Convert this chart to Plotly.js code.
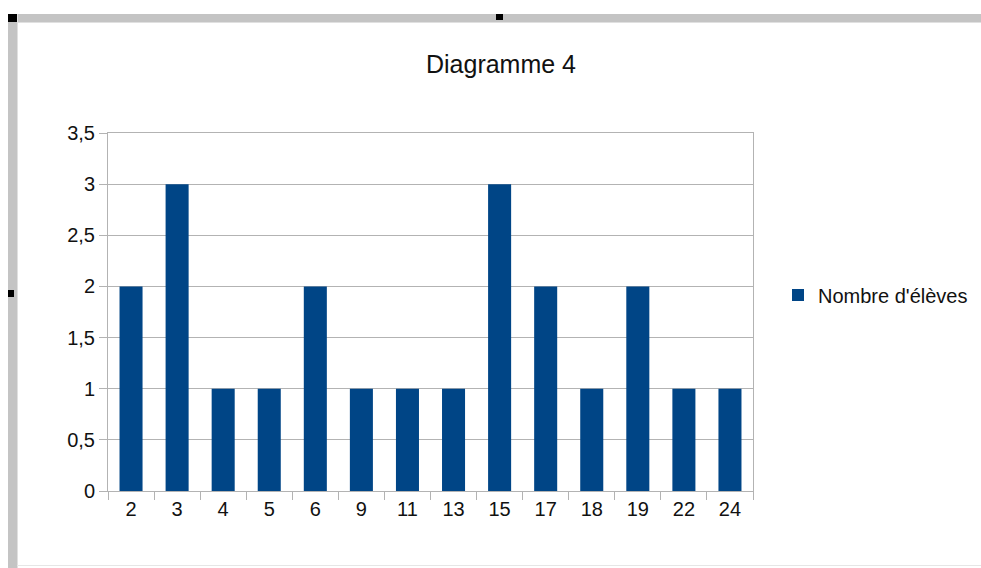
<!DOCTYPE html>
<html>
<head>
<meta charset="utf-8">
<script src="https://cdn.plot.ly/plotly-3.0.1.min.js"></script>
<style>
  html, body { margin: 0; padding: 0; background: #fff; }
  #wrap { position: relative; width: 981px; height: 568px; overflow: hidden; }
  .frame { position: absolute; background: #c4c4c4; }
  .handle { position: absolute; background: #000; }
  #chart { position: absolute; left: 0; top: 0; width: 981px; height: 568px; }
</style>
</head>
<body>
<div id="wrap">
  <div class="frame" style="left:8px; top:14px; width:973px; height:8px; border-bottom:1px solid #e0e0e0;"></div>
  <div class="frame" style="left:8px; top:14px; width:9px; height:554px; border-right:1px solid #e0e0e0;"></div>
  <div class="frame" style="left:17px; top:565px; width:964px; height:1px; background:#e6e6e6;"></div>
  <div class="handle" style="left:8px; top:14px; width:9px; height:8px;"></div>
  <div class="handle" style="left:496px; top:14px; width:7px; height:6px;"></div>
  <div class="handle" style="left:8px; top:290px; width:6px; height:7px;"></div>
  <div id="chart"></div>
</div>
<script>
const categories = ['2', '3', '4', '5', '6', '9', '11', '13', '15', '17', '18', '19', '22', '24'];
const values = [2, 3, 1, 1, 2, 1, 1, 1, 3, 2, 1, 2, 1, 1];
const seriesName = "Nombre d'élèves";
const chartTitle = 'Diagramme 4';
const yTickVals = [0, 0.5, 1, 1.5, 2, 2.5, 3, 3.5];

const font = "'Liberation Sans', Arial, sans-serif";
const grid = '#b3b3b3';
const textColor = '#111';

const trace = {
  type: 'bar',
  x: categories,
  y: values,
  name: seriesName,
  marker: { color: '#004586', line: { width: 0 } },
  showlegend: true
};

const layout = {
  width: 981,
  height: 568,
  margin: { l: 108, r: 228, t: 133, b: 77, pad: 0, autoexpand: false },
  paper_bgcolor: 'rgba(0,0,0,0)',
  plot_bgcolor: '#ffffff',
  separators: ', ',
  font: { family: font, size: 20, color: textColor },
  title: {
    text: chartTitle,
    font: { family: font, size: 25, color: textColor },
    xref: 'container', x: 501 / 981, xanchor: 'center',
    yref: 'container', y: 1 - 64 / 568, yanchor: 'middle'
  },
  bargap: 0.5,
  xaxis: {
    type: 'category',
    showgrid: false,
    showline: true, linecolor: grid, linewidth: 1,
    mirror: true,
    ticks: 'outside', ticklen: 8, tickcolor: grid, tickwidth: 1,
    tickson: 'boundaries',
    tickfont: { family: font, size: 20, color: textColor },
    zeroline: false,
    automargin: false,
    fixedrange: true
  },
  yaxis: {
    range: [0, 3.5],
    tickvals: yTickVals,
    showgrid: true, gridcolor: grid, gridwidth: 1,
    showline: true, linecolor: grid, linewidth: 1,
    mirror: true,
    ticks: 'outside', ticklen: 8, tickcolor: grid, tickwidth: 1,
    tickfont: { family: font, size: 20, color: textColor },
    zeroline: false,
    automargin: false,
    fixedrange: true
  },
  showlegend: true,
  legend: {
    x: (778 - 108) / 645, xanchor: 'left',
    y: 1 - (295 - 133) / 358, yanchor: 'middle',
    font: { family: font, size: 20, color: textColor },
    bgcolor: 'rgba(0,0,0,0)',
    borderwidth: 0
  }
};

Plotly.newPlot('chart', [trace], layout, { staticPlot: true, displayModeBar: false });
</script>
</body>
</html>
